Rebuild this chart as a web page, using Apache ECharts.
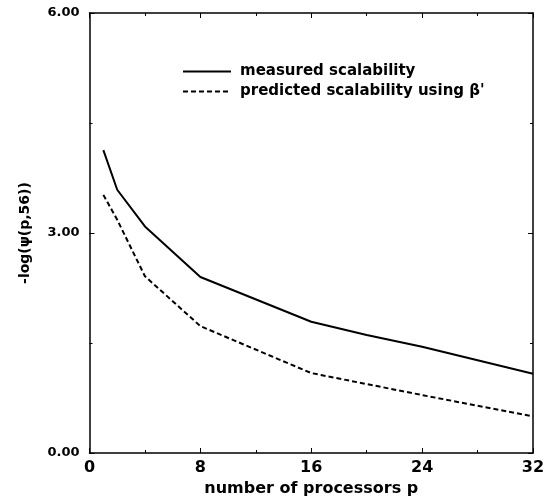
<!DOCTYPE html>
<html><head><meta charset="utf-8">
<script src="https://cdn.jsdelivr.net/npm/echarts@6/dist/echarts.min.js"></script>
<style>html,body{margin:0;padding:0;background:#fff}#c{width:548px;height:497px}</style>
</head><body><div id="c"></div>
<script>
var pMeasured = [1, 2, 4, 8, 16, 20, 24, 32];
var measured = [4.13, 3.59, 3.09, 2.40, 1.79, 1.61, 1.45, 1.08];
var pPredicted = [1, 2, 4, 8, 16, 20, 24, 32];
var predicted = [3.52, 3.18, 2.41, 1.73, 1.09, 0.94, 0.79, 0.50];
var seriesNames = ["measured scalability", "predicted scalability using \u03b2'"];
var xTicks = [0, 8, 16, 24, 32];
var yTicks = [0, 3, 6];

function pairs(xs, ys){ return xs.map(function(x,i){ return [x, ys[i]]; }); }
var FONT = '"DejaVu Sans", sans-serif';
var chart = echarts.init(document.getElementById('c'), null, {renderer:'canvas'});
var axisCommon = {
  axisLine:{show:true, onZero:false, lineStyle:{color:'#000', width:1.5}},
  axisTick:{show:true, inside:true, length:5, lineStyle:{color:'#000', width:1}},
  minorTick:{show:true, splitNumber:2, length:3, lineStyle:{color:'#000', width:1}},
  splitLine:{show:false}
};
chart.setOption({
  animation:false,
  backgroundColor:'#fff',
  grid:{left:89.5, right:15, top:13, bottom:44, containLabel:false, outerBoundsMode:'none'},
  legend:{
    orient:'vertical', left:182, top:64, padding:0, itemWidth:48, itemHeight:12, itemGap:5,
    itemStyle:{opacity:0},
    textStyle:{fontFamily:FONT, fontSize:15, fontWeight:'bold', color:'#000', padding:[0,0,0,4]},
    data:seriesNames
  },
  xAxis:[
    Object.assign({}, axisCommon, {
      type:'value', min:xTicks[0], max:xTicks[xTicks.length-1], interval:8, position:'bottom',
      axisLabel:{fontFamily:FONT, fontSize:16, fontWeight:'bold', color:'#000', margin:7},
      name:'number of processors p', nameLocation:'middle', nameGap:27,
      nameTextStyle:{fontFamily:FONT, fontSize:16, fontWeight:'bold', color:'#000'}
    }),
    Object.assign({}, axisCommon, {
      type:'value', min:xTicks[0], max:xTicks[xTicks.length-1], interval:8, position:'top',
      axisLabel:{show:false}
    })
  ],
  yAxis:[
    Object.assign({}, axisCommon, {
      type:'value', min:yTicks[0], max:yTicks[yTicks.length-1], interval:3, position:'left',
      axisLabel:{fontFamily:FONT, fontSize:13, fontWeight:'bold', color:'#000', margin:10,
        formatter:function(v){ return v.toFixed(2); }},
      name:'-log(\u03c8(p,56))', nameLocation:'middle', nameGap:57, nameRotate:90,
      nameTextStyle:{fontFamily:FONT, fontSize:14, fontWeight:'bold', color:'#000'}
    }),
    Object.assign({}, axisCommon, {
      type:'value', min:yTicks[0], max:yTicks[yTicks.length-1], interval:3, position:'right',
      axisLabel:{show:false}
    })
  ],
  series:[
    {name:seriesNames[0], type:'line', data:pairs(pMeasured, measured), showSymbol:false, symbol:'none',
     lineStyle:{color:'#000', width:2, type:'solid'}, itemStyle:{color:'#000'}},
    {name:seriesNames[1], type:'line', data:pairs(pPredicted, predicted), showSymbol:false, symbol:'none',
     lineStyle:{color:'#000', width:2, type:[5,3]}, itemStyle:{color:'#000'}}
  ]
});
</script></body></html>
